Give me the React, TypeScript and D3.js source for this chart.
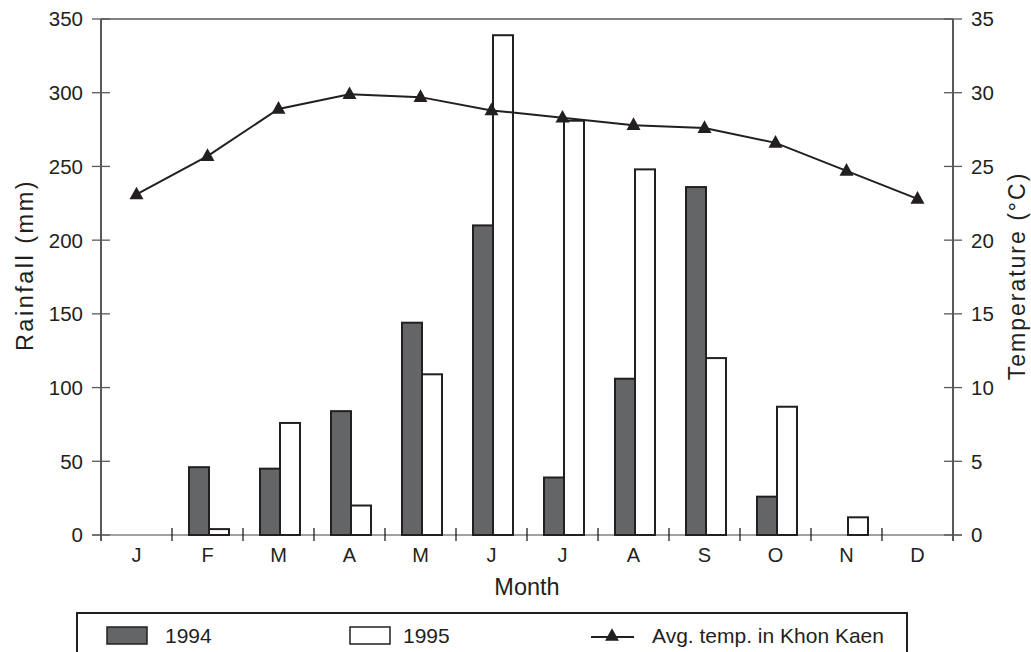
import React from "react";
import * as d3 from "d3";

const months = ["J", "F", "M", "A", "M", "J", "J", "A", "S", "O", "N", "D"];
const rain1994 = [0, 46, 45, 84, 144, 210, 39, 106, 236, 26, 0, 0];
const rain1995 = [0, 4, 76, 20, 109, 339, 281, 248, 120, 87, 12, 0];
const avgTemp = [23.1, 25.7, 28.9, 29.9, 29.7, 28.8, 28.3, 27.8, 27.6, 26.6, 24.7, 22.8];
const rainTicks = [0, 50, 100, 150, 200, 250, 300, 350];
const tempTicks = [0, 5, 10, 15, 20, 25, 30, 35];
const years = ["1994", "1995"];

const W = 1031, H = 652;
const left = 101, right = 953, top = 19, bottom = 535;
const FONT = "'Liberation Sans', Arial, Helvetica, sans-serif";
const INK = "#231f20";
const BAR_DARK = "#646567";

function tri(cx: number, cy: number, s: number) {
  const h = s * 0.9;
  return `M${cx},${cy - h * 0.62}L${cx + s / 2},${cy + h * 0.38}L${cx - s / 2},${cy + h * 0.38}Z`;
}

export default function App() {
  const idx = months.map((_, i) => String(i));
  const x = d3.scaleBand<string>().domain(idx).range([left, right]).padding(0);
  const bw = x.bandwidth();
  const x1 = d3.scaleBand<string>().domain(years).range([bw / 2 - 18.5, bw / 2 + 21.5]).padding(0);
  const yR = d3.scaleLinear().domain([0, 350]).range([bottom, top]);
  const yT = d3.scaleLinear().domain([0, 35]).range([bottom, top]);

  const cx = (i: number) => (x(String(i)) as number) + bw / 2;
  const line = d3.line<number>().x((_, i) => cx(i)).y(d => yT(d));

  const series = [rain1994, rain1995];
  const boundaries = d3.range(months.length + 1).map(i => left + i * bw);

  return (
    <svg width={W} height={H} style={{ position: "absolute", left: 0, top: 0, background: "#fff" }}
      fontFamily={FONT}>
      {/* frame */}
      <line x1={left} x2={right} y1={top} y2={top} stroke="#58595b" strokeWidth={1.5} />
      <line x1={92} x2={962} y1={bottom} y2={bottom} stroke="#808285" strokeWidth={1.5} />

      {/* bars */}
      {series.map((vals, s) => (
        <g key={years[s]}>
          {vals.map((v, i) => v > 0 ? (
            <rect key={i}
              x={(x(String(i)) as number) + (x1(years[s]) as number)}
              y={yR(v)}
              width={x1.bandwidth()}
              height={bottom - yR(v)}
              fill={s === 0 ? BAR_DARK : "#fff"}
              stroke={INK} strokeWidth={2} />
          ) : null)}
        </g>
      ))}

      {/* axes */}
      <line x1={left} x2={left} y1={top} y2={541} stroke={INK} strokeWidth={1.5} />
      <line x1={right} x2={right} y1={top} y2={541} stroke={INK} strokeWidth={1.5} />
      {rainTicks.map(t => (
        <g key={"l" + t}>
          <line x1={92} x2={110} y1={yR(t)} y2={yR(t)} stroke="#58595b" strokeWidth={1.3} />
          <text x={83} y={yR(t)} dy="0.36em" textAnchor="end" fontSize={20.5} fill={INK}>{t}</text>
        </g>
      ))}
      {tempTicks.map(t => (
        <g key={"r" + t}>
          <line x1={944} x2={962} y1={yT(t)} y2={yT(t)} stroke="#58595b" strokeWidth={1.3} />
          <text x={971} y={yT(t)} dy="0.36em" textAnchor="start" fontSize={20.5} fill={INK}>{t}</text>
        </g>
      ))}
      {boundaries.slice(1, -1).map((b, i) => (
        <line key={"b" + i} x1={b} x2={b} y1={528} y2={541} stroke={INK} strokeWidth={1.3} />
      ))}
      {months.map((m, i) => (
        <text key={"m" + i} x={cx(i)} y={562} textAnchor="middle" fontSize={20} fill={INK}>{m}</text>
      ))}
      <text x={(left + right) / 2} y={595} textAnchor="middle" fontSize={23.5} fill={INK}>Month</text>
      <text transform={`translate(33,265) rotate(-90)`} textAnchor="middle"
        fontSize={23.5} letterSpacing={2.5} fill={INK}>Rainfall (mm)</text>
      <text transform={`translate(1025,276) rotate(-90)`} textAnchor="middle"
        fontSize={23} letterSpacing={2} fill={INK}>Temperature (°C)</text>

      {/* temperature line */}
      <path d={line(avgTemp) || ""} fill="none" stroke={INK} strokeWidth={2} />
      {avgTemp.map((t, i) => (
        <path key={"t" + i} d={tri(cx(i), yT(t), 14)} fill={INK} />
      ))}

      {/* legend */}
      <rect x={77} y={613} width={830} height={60} fill="#fff" stroke={INK} strokeWidth={2} />
      <rect x={107} y={627} width={40} height={17} fill={BAR_DARK} stroke={INK} strokeWidth={1.5} />
      <text x={165} y={643} fontSize={21} fill={INK}>1994</text>
      <rect x={350} y={627} width={40} height={17} fill="#fff" stroke={INK} strokeWidth={1.5} />
      <text x={403} y={643} fontSize={21} fill={INK}>1995</text>
      <line x1={591} x2={634} y1={637} y2={637} stroke={INK} strokeWidth={2} />
      <path d={tri(612, 636, 14)} fill={INK} />
      <text x={652} y={643} fontSize={21} fill={INK}>Avg. temp. in Khon Kaen</text>
    </svg>
  );
}
